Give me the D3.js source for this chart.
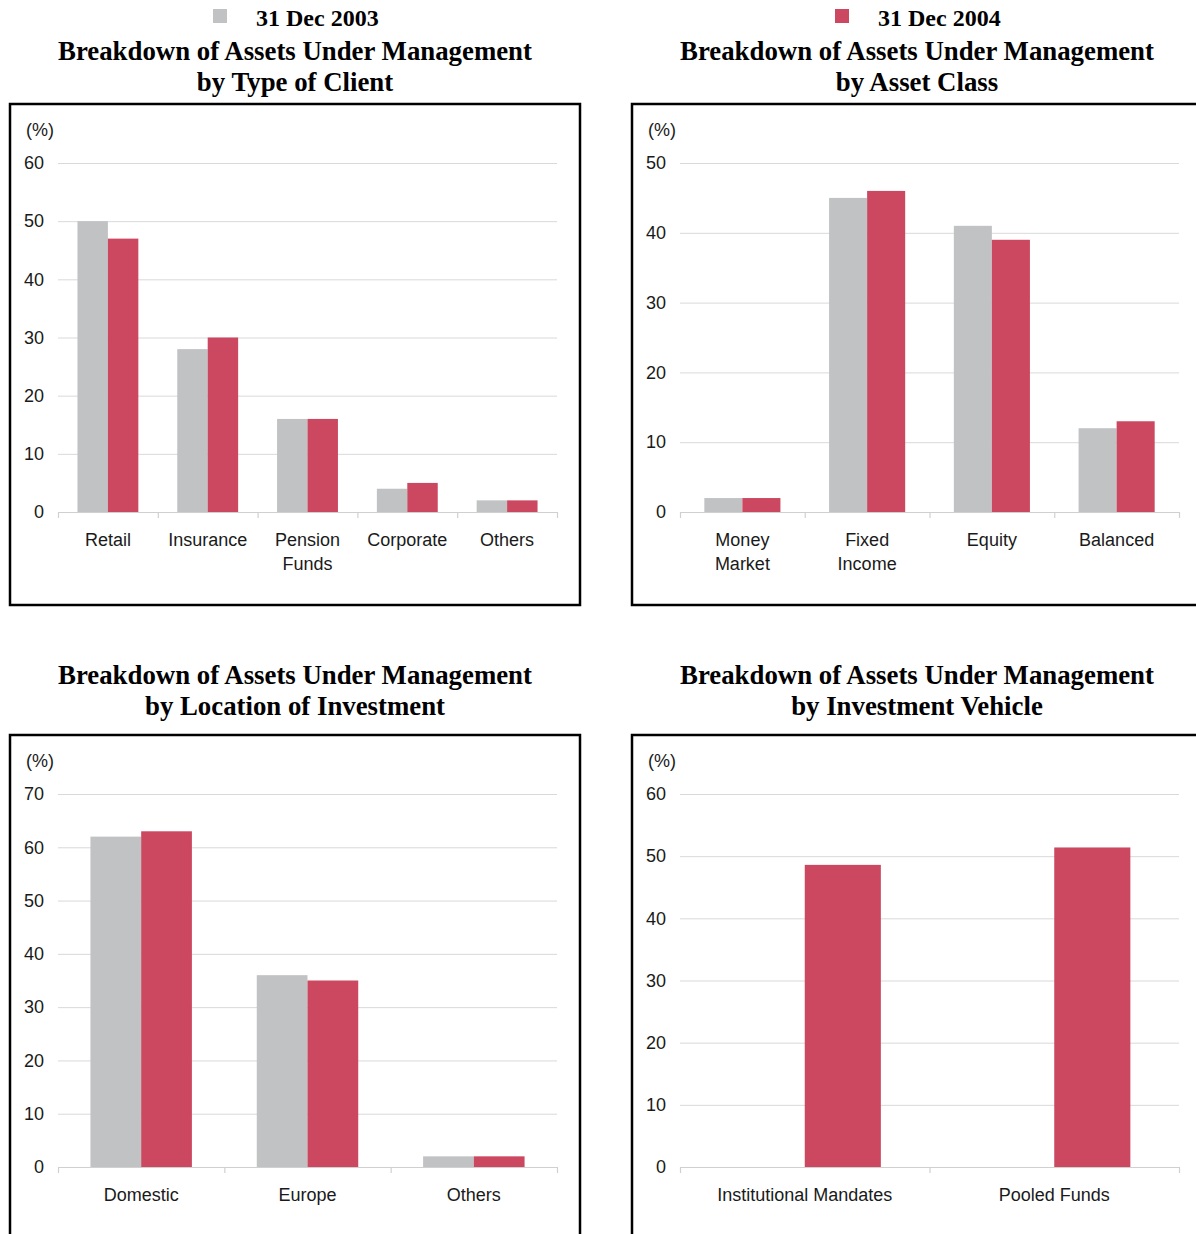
<!DOCTYPE html>
<html>
<head>
<meta charset="utf-8">
<script src="https://cdn.jsdelivr.net/npm/d3@7"></script>
<style>
  html, body { margin: 0; padding: 0; background: #fff; overflow: hidden; }
  svg { display: block; }
</style>
</head>
<body>
<svg id="chart" width="1196" height="1234"></svg>
<script>
// ---------- DATA ----------
const seriesLabels = ["31 Dec 2003", "31 Dec 2004"];
const titleLine1 = "Breakdown of Assets Under Management";

const clientTitle = "by Type of Client";
const clientCategories = ["Retail", "Insurance", "Pension\nFunds", "Corporate", "Others"];
const client2003 = [50, 28, 16, 4, 2];
const client2004 = [47, 30, 16, 5, 2];
const clientTicks = [0, 10, 20, 30, 40, 50, 60];

const assetTitle = "by Asset Class";
const assetCategories = ["Money\nMarket", "Fixed\nIncome", "Equity", "Balanced"];
const asset2003 = [2, 45, 41, 12];
const asset2004 = [2, 46, 39, 13];
const assetTicks = [0, 10, 20, 30, 40, 50];

const locationTitle = "by Location of Investment";
const locationCategories = ["Domestic", "Europe", "Others"];
const location2003 = [62, 36, 2];
const location2004 = [63, 35, 2];
const locationTicks = [0, 10, 20, 30, 40, 50, 60, 70];

const vehicleTitle = "by Investment Vehicle";
const vehicleCategories = ["Institutional Mandates", "Pooled Funds"];
const vehicle2003 = [null, null];
const vehicle2004 = [48.6, 51.4];
const vehicleTicks = [0, 10, 20, 30, 40, 50, 60];

const unitLabel = "(%)";

// ---------- STYLE ----------
const colors = ["#c1c2c4", "#cc4760"];
const sansFont = "'Liberation Sans', Arial, Helvetica, sans-serif";
const serifFont = "'Liberation Serif', 'Times New Roman', serif";
const gridColor = "#d9d9d9";
const textColor = "#1a1a1a";

const svg = d3.select("#chart");

// legend
const legendPos = [{sq: 213, tx: 256}, {sq: 835, tx: 878}];
seriesLabels.forEach((lab, i) => {
  svg.append("rect")
    .attr("x", legendPos[i].sq).attr("y", 9)
    .attr("width", 14).attr("height", 14)
    .attr("fill", colors[i]);
  svg.append("text")
    .attr("x", legendPos[i].tx).attr("y", 26)
    .attr("font-family", serifFont).attr("font-weight", "bold")
    .attr("font-size", 24).attr("fill", "#000")
    .text(lab);
});

function drawPanel(opt) {
  const {boxX, boxY, boxH, titleY, subtitle, categories, s1, s2, ticks, plotTopOff, zeroOff} = opt;
  const boxW = 570;
  const cx = boxX + boxW / 2;

  // titles
  svg.append("text")
    .attr("x", cx).attr("y", titleY)
    .attr("text-anchor", "middle")
    .attr("font-family", serifFont).attr("font-weight", "bold")
    .attr("font-size", 26.8).attr("fill", "#000")
    .text(titleLine1);
  svg.append("text")
    .attr("x", cx).attr("y", titleY + 31)
    .attr("text-anchor", "middle")
    .attr("font-family", serifFont).attr("font-weight", "bold")
    .attr("font-size", 26.8).attr("fill", "#000")
    .text(subtitle);

  // frame
  svg.append("rect")
    .attr("x", boxX).attr("y", boxY)
    .attr("width", boxW).attr("height", boxH)
    .attr("fill", "none").attr("stroke", "#000").attr("stroke-width", 2.5);

  const x0 = boxX + 48, x1 = boxX + 547;
  const yTop = boxY + plotTopOff, yZero = boxY + zeroOff;

  const y = d3.scaleLinear().domain([0, d3.max(ticks)]).range([yZero, yTop]);
  const xBand = d3.scaleBand().domain(d3.range(categories.length)).range([x0, x1]).padding(0);
  const bw = xBand.bandwidth();
  const inner = d3.scaleBand().domain([0, 1]).range([bw * 0.195, bw * 0.805]).padding(0);

  // unit label
  svg.append("text")
    .attr("x", boxX + 16).attr("y", boxY + 32)
    .attr("font-family", sansFont).attr("font-size", 18)
    .attr("fill", textColor).text(unitLabel);

  // y axis + grid
  const yAxis = svg.append("g")
    .attr("transform", `translate(${x0},0)`)
    .call(d3.axisLeft(y).tickValues(ticks).tickSize(-(x1 - x0)).tickPadding(14).tickFormat(d3.format("d")));
  yAxis.select(".domain").remove();
  yAxis.selectAll(".tick line").attr("stroke", gridColor).attr("stroke-width", 1);
  yAxis.selectAll(".tick text")
    .attr("font-family", sansFont).attr("font-size", 18).attr("fill", textColor);

  // bars
  const rows = categories.map((c, i) => ({i, vals: [s1[i], s2[i]]}));
  const groups = svg.append("g").selectAll("g").data(rows).join("g")
    .attr("transform", d => `translate(${xBand(d.i)},0)`);
  groups.selectAll("rect")
    .data(d => d.vals.map((v, k) => ({v, k})).filter(e => e.v != null))
    .join("rect")
    .attr("x", e => inner(e.k))
    .attr("width", inner.bandwidth())
    .attr("y", e => y(e.v))
    .attr("height", e => y(0) - y(e.v))
    .attr("fill", e => colors[e.k]);

  // x baseline with boundary ticks
  const xb = d3.scaleLinear().domain([0, categories.length]).range([x0, x1]);
  const xAxis = svg.append("g")
    .attr("transform", `translate(0,${yZero})`)
    .call(d3.axisBottom(xb).tickValues(d3.range(categories.length + 1)).tickSize(6).tickSizeOuter(0).tickFormat(""));
  xAxis.select(".domain").attr("stroke", "#d0d0d0").attr("stroke-width", 1.2);
  xAxis.selectAll(".tick line").attr("stroke", "#d0d0d0").attr("stroke-width", 1.2);

  // category labels
  const labAxis = svg.append("g")
    .attr("transform", `translate(0,${yZero})`)
    .call(d3.axisBottom(xBand).tickSize(0).tickPadding(0).tickFormat(i => categories[i]));
  labAxis.select(".domain").remove();
  labAxis.selectAll(".tick text").each(function(i) {
    const t = d3.select(this);
    const lines = categories[i].split("\n");
    t.text(null).attr("y", 0).attr("dy", null)
      .attr("font-family", sansFont).attr("font-size", 18).attr("fill", textColor);
    lines.forEach((ln, k) => {
      t.append("tspan").attr("x", 0).attr("y", 34 + k * 24).text(ln);
    });
  });
}

drawPanel({boxX: 10, boxY: 104, boxH: 501, titleY: 60, subtitle: clientTitle,
  categories: clientCategories, s1: client2003, s2: client2004, ticks: clientTicks,
  plotTopOff: 59, zeroOff: 408});
drawPanel({boxX: 632, boxY: 104, boxH: 501, titleY: 60, subtitle: assetTitle,
  categories: assetCategories, s1: asset2003, s2: asset2004, ticks: assetTicks,
  plotTopOff: 59, zeroOff: 408});
drawPanel({boxX: 10, boxY: 735, boxH: 540, titleY: 684, subtitle: locationTitle,
  categories: locationCategories, s1: location2003, s2: location2004, ticks: locationTicks,
  plotTopOff: 59, zeroOff: 432});
drawPanel({boxX: 632, boxY: 735, boxH: 540, titleY: 684, subtitle: vehicleTitle,
  categories: vehicleCategories, s1: vehicle2003, s2: vehicle2004, ticks: vehicleTicks,
  plotTopOff: 59, zeroOff: 432});
</script>
</body>
</html>
